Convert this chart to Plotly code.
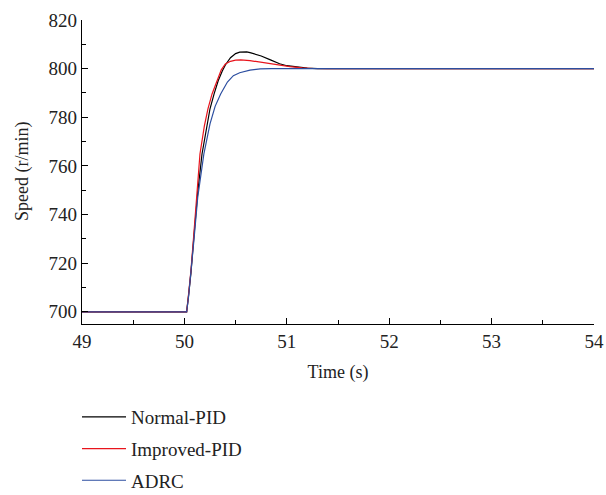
import plotly.graph_objects as go

# Time samples (s) and speeds (r/min)
t_normal = [49.0, 50.0, 50.022, 50.04, 50.064, 50.094, 50.13, 50.172, 50.22, 50.25, 50.29, 50.33, 50.37,
            50.4, 50.45, 50.5, 50.54, 50.575, 50.61, 50.65, 50.75, 50.84, 50.93, 51.0, 51.1, 51.2, 51.3, 51.4, 54.0]
v_normal = [700, 700, 700, 706.5, 716, 731.5, 749, 764.9, 777.3, 783.5, 789.6, 795, 799,
            801.5, 804.5, 806.2, 806.8, 807.0, 806.9, 806.5, 805.2, 803.6, 802.0, 801.2, 800.6, 800.2, 800.03, 800, 800]

t_improved = [49.0, 50.0, 50.022, 50.04, 50.064, 50.094, 50.125, 50.152, 50.195, 50.23, 50.27, 50.32, 50.36,
              50.4, 50.45, 50.5, 50.55, 50.64, 50.74, 50.84, 50.94, 51.03, 51.15, 51.26, 51.4, 54.0]
v_improved = [700, 700, 700, 707, 717, 733, 751, 764.9, 776.5, 783.5, 789.6, 795.5, 799.5,
              801.9, 803.0, 803.5, 803.6, 803.3, 802.6, 801.9, 801.3, 800.8, 800.35, 800.05, 800, 800]

t_adrc = [49.0, 50.0, 50.022, 50.04, 50.064, 50.094, 50.13, 50.19, 50.25, 50.3, 50.354, 50.42, 50.478,
          50.54, 50.64, 50.74, 50.85, 54.0]
v_adrc = [700, 700, 700, 706, 715.5, 730, 747, 764.9, 777.3, 784.5, 789.6, 794.5, 797.1,
          798.3, 799.4, 799.9, 800, 800]

series = [
    ("Normal-PID", t_normal, v_normal, "#000000"),
    ("Improved-PID", t_improved, v_improved, "#e8141c"),
    ("ADRC", t_adrc, v_adrc, "#2c4ea0"),
]

FONT = "Liberation Serif"
TXT = "#222222"

fig = go.Figure()
for i, (name, t, v, c) in enumerate(series):
    fig.add_trace(go.Scatter(x=t, y=v, mode="lines", name=name, legendgroup=str(i),
                             line=dict(color=c, width=1.2)))

axis_common = dict(
    showline=True, linecolor="black", linewidth=1.2, mirror=False, automargin=False,
    showgrid=False, zeroline=False, ticks="inside", ticklen=6, tickwidth=1.2,
    tickcolor="black", tickfont=dict(family=FONT, size=19, color=TXT),
)

fig.update_layout(
    width=606, height=495,
    margin=dict(l=82, r=12, t=20, b=171, autoexpand=False),
    paper_bgcolor="white", plot_bgcolor="white",
    font=dict(family=FONT, size=18, color=TXT),
    xaxis=dict(range=[49, 54], dtick=1, tick0=49,
               minor=dict(ticks="inside", ticklen=4, dtick=0.5, tickcolor="black", tickwidth=1.2),
               title=dict(text="Time (s)", font=dict(family=FONT, size=18, color=TXT), standoff=14),
               **axis_common),
    yaxis=dict(range=[695, 820], dtick=20, tick0=700,
               minor=dict(ticks="inside", ticklen=4, dtick=10, tickcolor="black", tickwidth=1.2),
               **axis_common),
    annotations=[dict(text="Speed (r/min)", xref="paper", yref="paper", x=-60 / 512, y=0.5,
                      xanchor="center", yanchor="middle", textangle=-90, showarrow=False,
                      font=dict(family=FONT, size=18, color=TXT))],
    showlegend=True,
    legend=dict(xref="container", yref="container", x=77 / 606, y=1 - 398 / 495,
                xanchor="left", yanchor="top", orientation="v", itemwidth=44,
                font=dict(family=FONT, size=19, color=TXT), tracegroupgap=4,
                bgcolor="rgba(0,0,0,0)"),
)

fig.write_html("out.html")
